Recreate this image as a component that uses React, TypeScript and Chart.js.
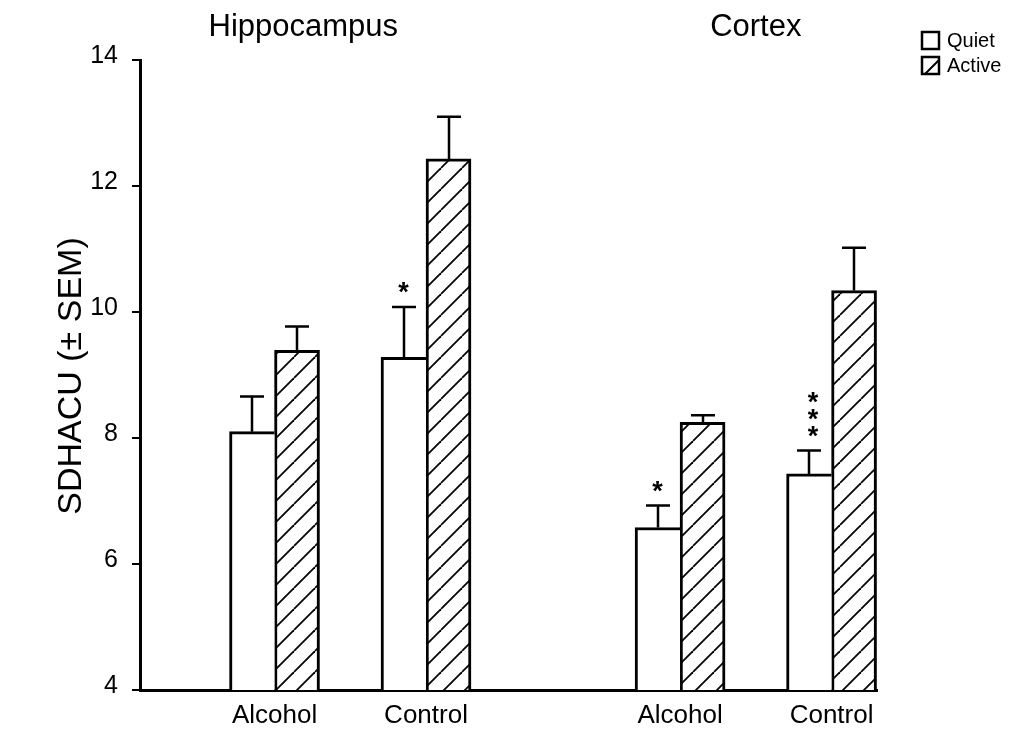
import { useEffect, useRef } from "react";
import { Chart, registerables } from "chart.js";

Chart.register(...registerables);

// ---- data ----
const regions = ["Hippocampus", "Cortex"];
const groups = ["Alcohol", "Control", "Alcohol", "Control"];
const seriesNames = ["Quiet", "Active"];
const quietMeans = [8.1, 9.28, 6.58, 7.43];
const quietUpper = [8.66, 10.08, 6.93, 7.8];
const activeMeans = [9.39, 12.43, 8.25, 10.34];
const activeUpper = [9.77, 13.1, 8.36, 11.02];
const quietMarks = ["", "*", "*", "***"];
const yTicks = [4, 6, 8, 10, 12, 14];
const yLabel = "SDHACU (± SEM)";

// ---- layout (not data) ----
const REGION_STEP = 2.677;
const xPos = (i: number) => Math.floor(i / 2) * REGION_STEP + (i % 2);
const FONT = "'Liberation Sans', Arial, Helvetica, sans-serif";

function makeHatch(): CanvasPattern | string {
  const c = document.createElement("canvas");
  const s = 21;
  c.width = s;
  c.height = s;
  const g = c.getContext("2d");
  if (!g) return "#fff";
  g.fillStyle = "#fff";
  g.fillRect(0, 0, s, s);
  g.strokeStyle = "#000";
  g.lineWidth = 1.8;
  for (let k = -1; k <= 1; k++) {
    g.beginPath();
    g.moveTo(k * s, s);
    g.lineTo(k * s + s, 0);
    g.stroke();
  }
  return g.createPattern(c, "repeat") || "#fff";
}

export default function App() {
  const ref = useRef<HTMLCanvasElement>(null);
  useEffect(() => {
    document.body.style.margin = "0";
    const canvas = ref.current;
    if (!canvas) return;
    const hatch = makeHatch();

    const extras = {
      id: "extras",
      afterDatasetsDraw(chart: any) {
        const ctx = chart.ctx;
        const xs = chart.scales.x;
        const ys = chart.scales.y;
        ctx.save();
        ctx.strokeStyle = "#000";
        ctx.lineWidth = 2.5;
        const uppers = [quietUpper, activeUpper];
        const means = [quietMeans, activeMeans];
        chart.data.datasets.forEach((_: any, d: number) => {
          const meta = chart.getDatasetMeta(d);
          meta.data.forEach((bar: any, i: number) => {
            const x = Math.round(bar.x);
            const y0 = ys.getPixelForValue(means[d][i]);
            const y1 = ys.getPixelForValue(uppers[d][i]);
            ctx.beginPath();
            ctx.moveTo(x, y0);
            ctx.lineTo(x, y1);
            ctx.moveTo(x - 12, y1);
            ctx.lineTo(x + 12, y1);
            ctx.stroke();
          });
        });
        // significance marks
        const qmeta = chart.getDatasetMeta(0);
        ctx.fillStyle = "#000";
        ctx.font = `bold 27px ${FONT}`;
        ctx.textAlign = "center";
        ctx.textBaseline = "middle";
        quietMarks.forEach((m, i) => {
          const bar = qmeta.data[i];
          const y1 = ys.getPixelForValue(quietUpper[i]);
          for (let k = 0; k < m.length; k++) {
            ctx.fillText("*", bar.x + (m.length > 1 ? 4 : 0), y1 - 13 - k * 17);
          }
        });
        // region titles
        ctx.font = `31px ${FONT}`;
        ctx.textBaseline = "alphabetic";
        const titleShift = [-47, 0];
        regions.forEach((r, ri) => {
          const cx = xs.getPixelForValue(ri * REGION_STEP + 0.5) + titleShift[ri];
          ctx.fillText(r, cx, 36);
        });
        // y label
        ctx.save();
        ctx.translate(72, 376);
        ctx.rotate(-Math.PI / 2);
        ctx.font = `34px ${FONT}`;
        ctx.textBaseline = "middle";
        ctx.fillText(yLabel, 0, 0);
        ctx.restore();
        // legend
        ctx.font = `20px ${FONT}`;
        ctx.textAlign = "left";
        ctx.textBaseline = "middle";
        seriesNames.forEach((n, k) => {
          const bx = 922;
          const by = 32 + k * 25;
          ctx.fillStyle = "#fff";
          ctx.fillRect(bx, by, 17, 17);
          ctx.lineWidth = 2.5;
          ctx.strokeRect(bx, by, 17, 17);
          if (k === 1) {
            ctx.beginPath();
            ctx.lineWidth = 2;
            ctx.moveTo(bx + 3, by + 17);
            ctx.lineTo(bx + 17, by + 3);
            ctx.stroke();
          }
          ctx.fillStyle = "#000";
          ctx.fillText(n, 947, by + 9);
        });
        ctx.restore();
      },
    };

    const chart = new Chart(canvas, {
      type: "bar",
      data: {
        datasets: [
          {
            label: seriesNames[0],
            data: quietMeans.map((v, i) => ({ x: xPos(i), y: v })),
            backgroundColor: "#fff",
            borderColor: "#000",
            borderWidth: { left: 3, top: 3, right: 0, bottom: 0 },
            borderSkipped: false,
            barThickness: 45,
          },
          {
            label: seriesNames[1],
            data: activeMeans.map((v, i) => ({ x: xPos(i), y: v })),
            backgroundColor: hatch as any,
            borderColor: "#000",
            borderWidth: { left: 3, top: 3, right: 3, bottom: 0 },
            borderSkipped: false,
            barThickness: 45,
          },
        ],
      } as any,
      options: {
        animation: false,
        responsive: false,
        layout: { padding: { top: 60, right: 147, bottom: 0, left: 0 } },
        plugins: { legend: { display: false }, tooltip: { enabled: false } },
        scales: {
          x: {
            type: "linear",
            offset: false,
            min: -0.888,
            max: 3.977,
            grid: { offset: false, drawOnChartArea: false, drawTicks: false },
            border: { display: true, color: "#000", width: 3 },
            afterBuildTicks: (s: any) => {
              s.ticks = groups.map((_, i) => ({ value: xPos(i) }));
            },
            afterFit: (s: any) => {
              s.height = 39;
            },
            ticks: {
              autoSkip: false,
              maxRotation: 0,
              padding: 10,
              color: "#000",
              font: { family: FONT, size: 26 },
              callback: (_v: any, i: number) => groups[i],
            },
          },
          y: {
            min: 4,
            max: 14,
            afterBuildTicks: (s: any) => {
              s.ticks = yTicks.map((v) => ({ value: v }));
            },
            afterFit: (s: any) => {
              s.width = 140;
            },
            grid: { drawOnChartArea: false, drawTicks: true, tickLength: 8, color: "#000", lineWidth: 2 },
            border: { display: true, color: "#000", width: 3 },
            ticks: {
              padding: 14,
              labelOffset: -4,
              color: "#000",
              font: { family: FONT, size: 25 },
            },
          },
        },
      } as any,
      plugins: [extras],
    });
    return () => chart.destroy();
  }, []);
  return <canvas ref={ref} width={1024} height={729} style={{ display: "block" }} />;
}
